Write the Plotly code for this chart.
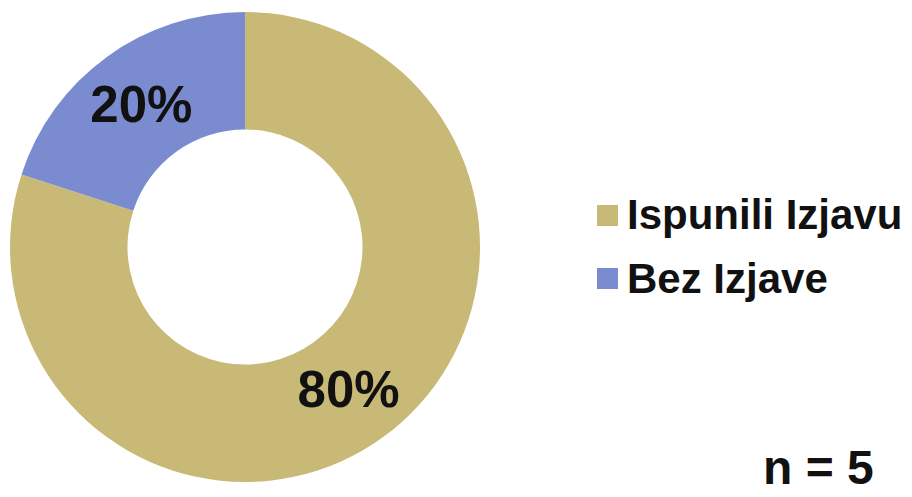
import plotly.graph_objects as go

W, H = 912, 497
OFF = 8  # page body margin offset of the rendered figure

labels = ["Ispunili Izjavu", "Bez Izjave"]
values = [80, 20]
colors = ["#C9B977", "#7A8BCF"]
n_label = "n = 5"

FONT = "Liberation Sans, Arial, sans-serif"


def px(x):
    return (x - OFF) / W


def py(y):
    return 1 - (y - OFF) / H


fig = go.Figure()
fig.add_trace(go.Pie(
    labels=labels,
    values=values,
    hole=0.5,
    sort=False,
    direction="clockwise",
    rotation=0,
    marker=dict(colors=colors, line=dict(width=0)),
    texttemplate="%{percent:.0%}",
    textposition="inside",
    insidetextorientation="horizontal",
    textfont=dict(family=FONT, size=51, color="#111111", weight="bold"),
    domain=dict(x=[px(10), px(480)], y=[py(482), py(12)]),
    showlegend=False,
    hoverinfo="label+percent",
))

# custom legend (square swatch + label) to match the reference spacing
leg_rows = [215, 278]
for lab, col, yc in zip(labels, colors, leg_rows):
    fig.add_shape(type="rect", xref="paper", yref="paper",
                  x0=px(597), x1=px(618),
                  y0=py(yc + 11), y1=py(yc - 10),
                  fillcolor=col, line=dict(width=0))
    fig.add_annotation(xref="paper", yref="paper", x=px(625), y=py(yc),
                       xanchor="left", yanchor="middle", showarrow=False,
                       text=lab,
                       font=dict(family=FONT, size=42, color="#111111", weight="bold"))

fig.add_annotation(xref="paper", yref="paper", x=px(761), y=py(496),
                   xanchor="left", yanchor="bottom", showarrow=False,
                   text=n_label,
                   font=dict(family=FONT, size=48, color="#111111", weight="bold"))

fig.update_layout(
    width=W, height=H,
    margin=dict(l=0, r=0, t=0, b=0),
    paper_bgcolor="white",
    plot_bgcolor="white",
)

fig.write_html("out.html")
